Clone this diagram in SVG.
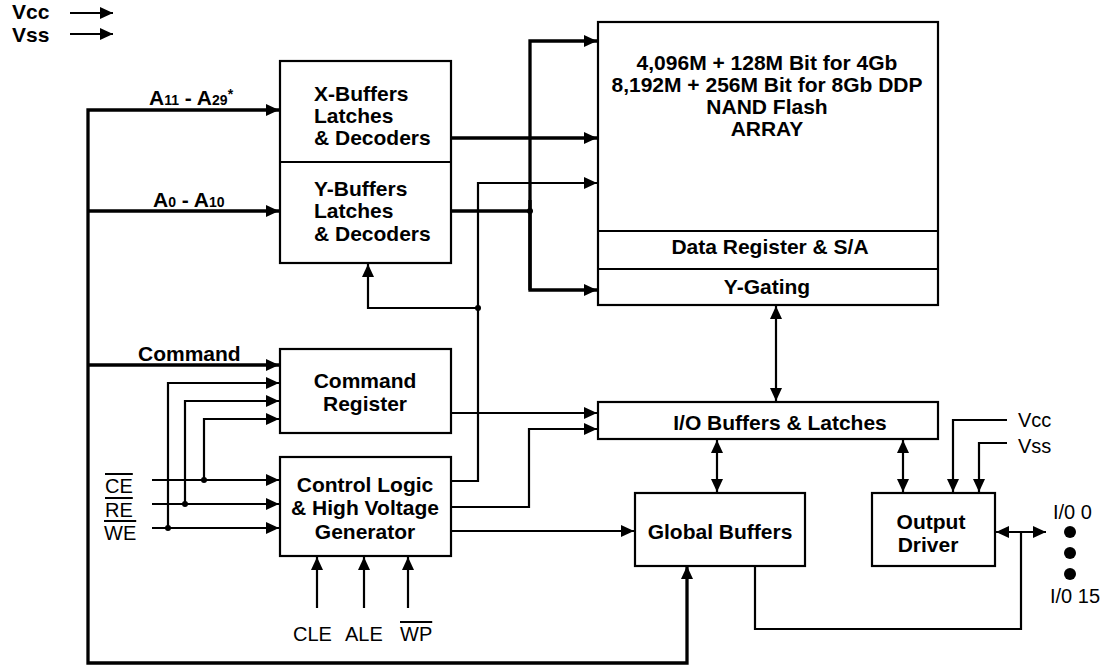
<svg xmlns="http://www.w3.org/2000/svg" width="1106" height="666" viewBox="0 0 1106 666">
<style>
.box{fill:#fff;stroke:#000;stroke-width:2.2}
.div{stroke:#000;stroke-width:2.2;fill:none}
.b{font-family:"Liberation Sans",Arial,sans-serif;font-weight:bold;font-size:21px;fill:#000}
.r{font-family:"Liberation Sans",Arial,sans-serif;font-size:20px;fill:#000}
.m{text-anchor:middle}
.sub{font-size:14px}
.thick{stroke:#000;stroke-width:3.3;fill:none}
.thin{stroke:#000;stroke-width:2.2;fill:none}
.arr{marker-end:url(#ah)}
.bi{marker-start:url(#ah);marker-end:url(#ah)}
.ov{text-decoration:overline}
</style>
<defs>
<marker id="ah" markerUnits="userSpaceOnUse" markerWidth="14" markerHeight="12" refX="13" refY="6" orient="auto-start-reverse">
<path d="M0,0 L13,6 L0,12 Z" fill="#000"/>
</marker>
</defs>
<rect width="1106" height="666" fill="#fff"/>

<g id="connectors">
<!-- top-left supply arrows -->
<path class="thin arr" d="M70,13 H113"/>
<path class="thin arr" d="M70,34 H113"/>
<!-- left bus -->
<path class="thick bi" d="M279,110 H88 V663 H687 V566"/>
<path class="thick arr" d="M88,211 H279"/>
<path class="thick arr" d="M88,365 H279"/>
<!-- X/Y buffers to array -->
<path class="thick arr" d="M451,138 H597"/>
<path class="thick" d="M451,211 H530"/>
<path class="thick arr" d="M530,290 V41 H597"/>
<path class="thick arr" d="M530,200 V290 H597"/>
<circle cx="530" cy="211" r="3" fill="#000"/>
<!-- control logic outputs -->
<path class="thin arr" d="M451,481 H478 V183 H597"/>
<path class="thin arr" d="M478,308 H368 V264"/>
<circle cx="478" cy="308" r="3" fill="#000"/>
<path class="thin arr" d="M451,413 H597"/>
<path class="thin arr" d="M451,507 H529 V429 H597"/>
<path class="thin arr" d="M451,531 H634"/>
<!-- CE RE WE -->
<path class="thin arr" d="M152,480 H279"/>
<path class="thin arr" d="M152,504 H279"/>
<path class="thin arr" d="M152,528 H279"/>
<path class="thin arr" d="M168,528 V383 H279"/>
<path class="thin arr" d="M185,504 V401 H279"/>
<path class="thin arr" d="M204,480 V419 H279"/>
<circle cx="168" cy="528" r="3" fill="#000"/>
<circle cx="185" cy="504" r="3" fill="#000"/>
<circle cx="204" cy="480" r="3" fill="#000"/>
<!-- CLE ALE WP -->
<path class="thin arr" d="M317,608 V557"/>
<path class="thin arr" d="M364,608 V557"/>
<path class="thin arr" d="M408,608 V557"/>
<!-- bidirectional -->
<path class="thin bi" d="M776,306 V401"/>
<path class="thin bi" d="M717,440 V492"/>
<path class="thin bi" d="M903,440 V492"/>
<!-- Vcc Vss to output driver -->
<path class="thin arr" d="M1007,420 H953 V492"/>
<path class="thin arr" d="M1007,443 H979 V492"/>
<!-- output driver I/O -->
<path class="thin bi" d="M996,532 H1046"/>
<path class="thin" d="M1021,532 V629 H755 V566"/>
</g>

<g id="supply-labels">
<text class="b" x="12" y="19">Vcc</text>
<text class="b" x="12" y="42">Vss</text>
</g>

<g id="bus-labels">
<text class="b" x="149" y="105">A<tspan class="sub">11</tspan> - A<tspan class="sub">29</tspan><tspan class="sub" dy="-6">*</tspan></text>
<text class="b" x="153" y="207">A<tspan class="sub">0</tspan> - A<tspan class="sub">10</tspan></text>
<text class="b" x="138" y="361">Command</text>
</g>

<g id="xy-buffers">
<rect class="box" x="280" y="61" width="171" height="202"/>
<line class="div" x1="280" y1="162" x2="451" y2="162"/>
<text class="b" x="314" y="101">X-Buffers</text>
<text class="b" x="314" y="123">Latches</text>
<text class="b" x="314" y="145">&amp; Decoders</text>
<text class="b" x="314" y="196">Y-Buffers</text>
<text class="b" x="314" y="218">Latches</text>
<text class="b" x="314" y="241">&amp; Decoders</text>
</g>

<g id="array">
<rect class="box" x="598" y="22" width="340" height="283"/>
<line class="div" x1="598" y1="231" x2="938" y2="231"/>
<line class="div" x1="598" y1="269" x2="938" y2="269"/>
<text class="b m" x="767" y="70">4,096M + 128M Bit for 4Gb</text>
<text class="b m" x="767" y="92">8,192M + 256M Bit for 8Gb DDP</text>
<text class="b m" x="767" y="114">NAND Flash</text>
<text class="b m" x="767" y="136">ARRAY</text>
<text class="b m" x="770" y="254">Data Register &amp; S/A</text>
<text class="b m" x="767" y="294">Y-Gating</text>
</g>

<g id="command-register">
<rect class="box" x="280" y="349" width="171" height="84"/>
<text class="b m" x="365" y="388">Command</text>
<text class="b m" x="365" y="411">Register</text>
</g>

<g id="control-logic">
<rect class="box" x="280" y="457" width="171" height="99"/>
<text class="b m" x="365" y="492">Control Logic</text>
<text class="b m" x="365" y="515">&amp; High Voltage</text>
<text class="b m" x="365" y="539">Generator</text>
</g>

<g id="io-buffers">
<rect class="box" x="598" y="402" width="340" height="37"/>
<text class="b m" x="780" y="430">I/O Buffers &amp; Latches</text>
</g>

<g id="global-buffers">
<rect class="box" x="635" y="493" width="170" height="73"/>
<text class="b m" x="720" y="539">Global Buffers</text>
</g>

<g id="output-driver">
<rect class="box" x="872" y="493" width="123" height="73"/>
<text class="b m" x="931" y="529">Output</text>
<text class="b m" x="928" y="552">Driver</text>
</g>

<g id="signal-labels">
<text class="r ov" x="105" y="493">CE</text>
<text class="r ov" x="105" y="517">RE</text>
<text class="r ov" x="104" y="540">WE</text>
<text class="r" x="293" y="641">CLE</text>
<text class="r" x="345" y="641">ALE</text>
<text class="r ov" x="400" y="641">WP</text>
<text class="r" x="1018" y="427">Vcc</text>
<text class="r" x="1018" y="453">Vss</text>
<text class="r" x="1053" y="519">I/0 0</text>
<text class="r" x="1050" y="603">I/0 15</text>
<circle cx="1070" cy="532" r="6" fill="#000"/>
<circle cx="1070" cy="553" r="6" fill="#000"/>
<circle cx="1070" cy="574" r="6" fill="#000"/>
</g>
</svg>
